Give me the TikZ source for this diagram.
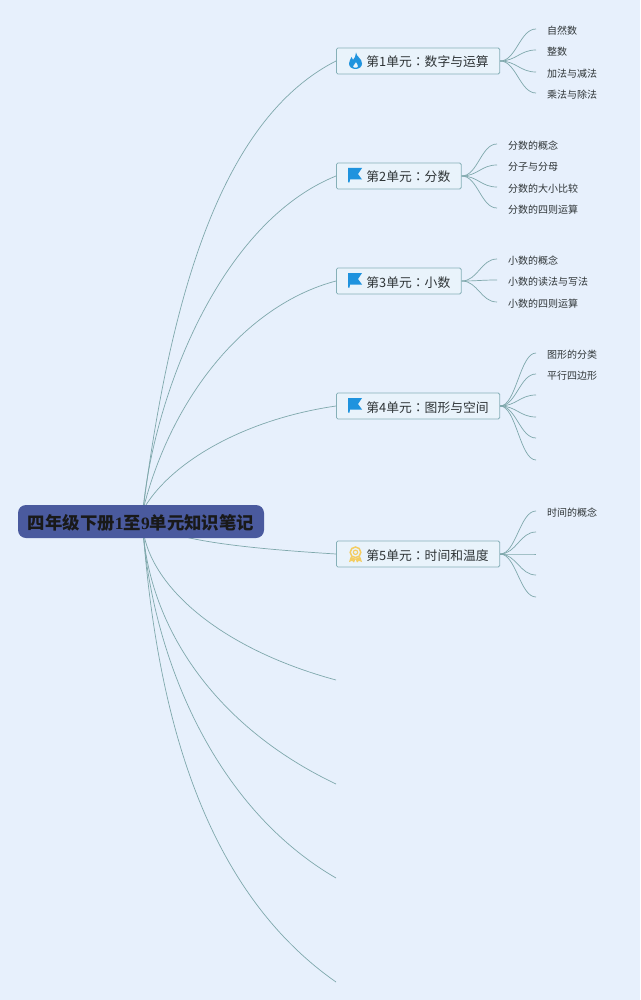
\documentclass[tikz,border=0pt]{standalone}
\usepackage{fontspec}
\setmainfont{Noto Sans CJK SC}
\newfontfamily\colonfont{Noto Sans CJK TC}
\newfontfamily\rootdigit{Liberation Serif}[BoldFont={Liberation Serif Bold}]
\newcommand{\cln}{{\colonfont ：}}
\newcommand{\ubx}[1]{\hspace*{19pt}#1}
\definecolor{bgc}{HTML}{E7F0FC}
\definecolor{linec}{HTML}{7FA8AC}
\definecolor{boxfill}{HTML}{E9F3FB}
\definecolor{boxline}{HTML}{86B0B8}
\definecolor{rootc}{HTML}{4A5A9E}
\definecolor{iconblue}{HTML}{1F93DE}
\definecolor{medal}{HTML}{F4CD62}
\definecolor{txt}{HTML}{2E3436}
\tikzset{
  x=1pt,y=-1pt,
  unitbox/.style={draw=boxline,fill=boxfill,line width=0.8pt,rounded corners=1.5pt,anchor=west,inner xsep=11pt,inner ysep=0pt,minimum height=26pt,text height=12pt,text depth=0pt,text=txt,font=\fontsize{12.8}{15}\selectfont},
  leaf/.style={anchor=west,inner xsep=11pt,inner ysep=1pt,text=txt,font=\fontsize{10}{12}\selectfont},
  rootbox/.style={fill=rootc,rounded corners=8pt,minimum width=246pt,minimum height=33pt,inner sep=0pt,text height=15.2pt,text depth=0pt,text=black!90,font=\fontsize{17.4}{19}\selectfont\bfseries},
  mainline/.style={draw=linec,line width=0.7pt},
  subline/.style={draw=linec,line width=0.7pt},
  flagicon/.pic={\fill[iconblue] (-7,-7.5) -- (7,-7.5) -- (3,-1.5) -- (7,4) -- (-5,4) -- (-5.5,7) -- (-7,7) -- cycle;},
  flameicon/.pic={\fill[iconblue,even odd rule] (0.5,-8.5) .. controls (1,-4) and (6.5,-2.5) .. (6.5,2.5) .. controls (6.5,6) and (3.5,8) .. (0,8) .. controls (-3.5,8) and (-6.5,6) .. (-6.5,2.5) .. controls (-6.5,-0.5) and (-4.5,-2) .. (-4,-4) .. controls (-3,-3) and (-2.5,-2) .. (-2.5,-1) .. controls (-1,-3) and (0.5,-5) .. (0.5,-8.5) -- cycle (0.5,1) .. controls (1,3) and (3,3.5) .. (2.5,5.5) .. controls (2,7.2) and (-2,7.2) .. (-2.5,5.5) .. controls (-2.8,4) and (0,3) .. (0.5,1) -- cycle;},
  medalicon/.pic={\draw[medal,line width=1.5pt] (0,-2.2) circle (5.3); \draw[medal,line width=1.1pt] (0,-2.2) circle (2.2); \fill[medal] (-4.8,2.2) -- (-6.5,7.5) -- (-3.5,6.3) -- (-1.5,8) -- (0,4.5) -- (1.5,8) -- (3.5,6.3) -- (6.5,7.5) -- (4.8,2.2) -- (0,4.2) -- cycle;}
}
\begin{document}
\begin{tikzpicture}[x=1pt,y=-1pt]
\path[fill=bgc] (0,0) rectangle (640,1000);
\useasboundingbox (0,0) rectangle (640,1000);
% nodes
\coordinate (hubup) at (143,510);
\coordinate (hub) at (143,521);
\coordinate (hubdown) at (143,530);
\node[unitbox] (u1) at (336,61) {\ubx{第1单元\cln 数字与运算}};
\node[unitbox] (u2) at (336,176) {\ubx{第2单元\cln 分数}};
\node[unitbox] (u3) at (336,281) {\ubx{第3单元\cln 小数}};
\node[unitbox] (u4) at (336,406) {\ubx{第4单元\cln 图形与空间}};
\node[unitbox] (u5) at (336,554) {\ubx{第5单元\cln 时间和温度}};
\coordinate (u6) at (336,680);
\coordinate (u7) at (336,784);
\coordinate (u8) at (336,878);
\coordinate (u9) at (336,982);
% main connectors
\draw[mainline] (hubup) .. controls (170,300) and (220,120) .. (u1.west);
\draw[mainline] (hubup) .. controls (155,390) and (222,222) .. (u2.west);
\draw[mainline] (hubup) .. controls (171,398) and (245,305) .. (u3.west);
\draw[mainline] (hubup) .. controls (168,465) and (240,420) .. (u4.west);
\draw[mainline] (hub) .. controls (170,540) and (240,548) .. (u5.west);
\draw[mainline] (hubdown) .. controls (152,590) and (225,650) .. (u6);
\draw[mainline] (hubdown) .. controls (150,625) and (212,725) .. (u7);
\draw[mainline] (hubdown) .. controls (152,650) and (210,805) .. (u8);
\draw[mainline] (hubdown) .. controls (155,680) and (190,880) .. (u9);
\node[rootbox] (root) at (141,521.5) {四年级下册{\rootdigit 1}至{\rootdigit 9}单元知识笔记};
% leaves
\node[leaf] (a1) at (536,30.7) {自然数};
\node[leaf] (a2) at (536,51.7) {整数};
\node[leaf] (a3) at (536,73.7) {加法与减法};
\node[leaf] (a4) at (536,94.7) {乘法与除法};
\node[leaf] (b1) at (497,145.7) {分数的概念};
\node[leaf] (b2) at (497,166.7) {分子与分母};
\node[leaf] (b3) at (497,188.7) {分数的大小比较};
\node[leaf] (b4) at (497,209.7) {分数的四则运算};
\node[leaf] (c1) at (497,260.7) {小数的概念};
\node[leaf] (c2) at (497,281.7) {小数的读法与写法};
\node[leaf] (c3) at (497,303.7) {小数的四则运算};
\node[leaf] (d1) at (536,354.7) {图形的分类};
\node[leaf] (d2) at (536,375.7) {平行四边形};
\coordinate (d3) at (536,395);
\coordinate (d4) at (536,417);
\coordinate (d5) at (536,438);
\coordinate (d6) at (536,460);
\node[leaf] (e1) at (536,512.7) {时间的概念};
\coordinate (e2) at (536,532);
\coordinate (e3) at (536,554);
\coordinate (e4) at (536,575);
\coordinate (e5) at (536,597);
% sub connectors
\foreach \s/\t in {u1/a1,u1/a2,u1/a3,u1/a4,u2/b1,u2/b2,u2/b3,u2/b4,u3/c1,u3/c2,u3/c3,u4/d1,u4/d2,u5/e1}{
  \draw[subline] (\s.east) .. controls ([xshift=16pt]\s.east) and ([xshift=-16pt,yshift=1.7pt]\t.west) .. ([yshift=1.7pt]\t.west);
}
\foreach \t in {d3,d4,d5,d6}{
  \draw[subline] (u4.east) .. controls ([xshift=16pt]u4.east) and ([xshift=-16pt]\t) .. (\t);
}
\foreach \t in {e2,e3,e4,e5}{
  \draw[subline] (u5.east) .. controls ([xshift=16pt]u5.east) and ([xshift=-16pt]\t) .. (\t);
}
% icons
\pic at (355.5,61) {flameicon};
\pic at (355,175.5) {flagicon};
\pic at (355,280.5) {flagicon};
\pic at (355,405.5) {flagicon};
\pic at (355.5,554.5) {medalicon};
\end{tikzpicture}
\end{document}
